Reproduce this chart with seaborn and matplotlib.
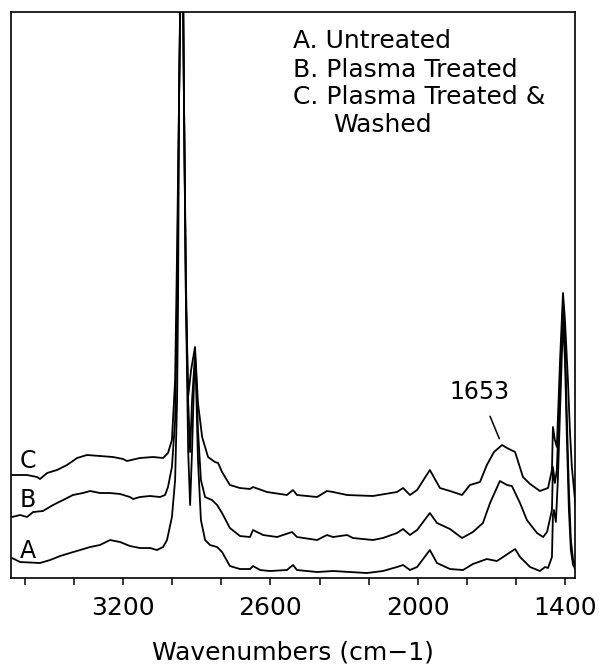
# IR spectra: untreated / plasma treated / plasma treated & washed

import numpy as np
import pandas as pd
import seaborn as sns
import matplotlib.pyplot as plt
from matplotlib.ticker import FixedLocator

# ============================================
# DATA (wavenumber, absorbance offset per trace)
# ============================================

wn_a = [3652, 3619, 3538, 3497, 3456, 3416, 3375, 3334, 3294, 3253, 3212, 3172,
        3131, 3090, 3062, 3037, 3021, 3001, 2988, 2980, 2976, 2972, 2960, 2952,
        2944, 2935, 2927, 2919, 2911, 2907, 2903, 2895, 2883, 2866, 2846, 2817,
        2797, 2765, 2724, 2683, 2671, 2642, 2602, 2533, 2508, 2492, 2410, 2345,
        2207, 2142, 2085, 2060, 2032, 2003, 1951, 1922, 1869, 1816, 1776, 1719,
        1678, 1653, 1604, 1584, 1543, 1503, 1482, 1470, 1454, 1450, 1446, 1438,
        1430, 1417, 1409, 1401, 1393, 1385, 1377, 1368, 1352]
abs_a = [0.20, 0.16, 0.15, 0.18, 0.22, 0.25, 0.28, 0.31, 0.33, 0.38, 0.36, 0.32,
         0.30, 0.30, 0.28, 0.31, 0.38, 0.61, 0.98, 1.78, 2.78, 4.78, 7.00, 4.78,
         2.78, 1.28, 0.73, 1.28, 1.98, 2.13, 1.98, 1.18, 0.58, 0.38, 0.33, 0.31,
         0.26, 0.12, 0.09, 0.09, 0.12, 0.08, 0.07, 0.08, 0.13, 0.08, 0.06, 0.07,
         0.05, 0.07, 0.11, 0.13, 0.08, 0.11, 0.28, 0.15, 0.09, 0.08, 0.14, 0.19,
         0.17, 0.21, 0.29, 0.21, 0.11, 0.07, 0.11, 0.10, 0.21, 0.63, 0.68, 0.56,
         0.98, 1.98, 2.58, 2.18, 1.38, 0.68, 0.28, 0.13, 0.06]

wn_b = [3652, 3619, 3591, 3566, 3526, 3485, 3444, 3404, 3363, 3334, 3294, 3253,
        3212, 3172, 3159, 3131, 3090, 3049, 3029, 3017, 3001, 2988, 2980, 2972,
        2960, 2952, 2944, 2935, 2927, 2919, 2907, 2903, 2895, 2883, 2866, 2838,
        2817, 2797, 2765, 2724, 2683, 2671, 2630, 2573, 2512, 2492, 2410, 2370,
        2345, 2288, 2264, 2183, 2142, 2085, 2060, 2032, 2003, 1951, 1922, 1869,
        1820, 1776, 1735, 1706, 1666, 1637, 1617, 1584, 1556, 1515, 1490, 1474,
        1454, 1450, 1442, 1434, 1421, 1409, 1401, 1393, 1385, 1377, 1368, 1352]
abs_b = [0.61, 0.63, 0.61, 0.66, 0.67, 0.73, 0.78, 0.83, 0.85, 0.87, 0.85, 0.85,
         0.84, 0.81, 0.79, 0.81, 0.82, 0.81, 0.83, 0.91, 1.11, 1.58, 2.78, 4.78,
         7.20, 4.78, 2.98, 1.78, 1.26, 1.78, 2.23, 2.08, 1.48, 0.98, 0.81, 0.78,
         0.73, 0.65, 0.50, 0.42, 0.41, 0.48, 0.43, 0.41, 0.46, 0.41, 0.38, 0.43,
         0.41, 0.43, 0.40, 0.38, 0.40, 0.45, 0.49, 0.43, 0.48, 0.65, 0.55, 0.49,
         0.40, 0.46, 0.55, 0.75, 0.97, 0.93, 0.92, 0.75, 0.58, 0.45, 0.41, 0.46,
         0.68, 1.11, 0.95, 1.08, 1.98, 2.73, 2.38, 1.58, 0.88, 0.38, 0.18, 0.08]

wn_c = [3652, 3591, 3550, 3538, 3509, 3469, 3428, 3387, 3347, 3294, 3241, 3200,
        3184, 3131, 3078, 3037, 3017, 3001, 2988, 2980, 2972, 2960, 2952, 2944,
        2935, 2923, 2907, 2895, 2878, 2854, 2826, 2813, 2797, 2765, 2724, 2683,
        2671, 2614, 2533, 2508, 2492, 2410, 2370, 2345, 2288, 2183, 2085, 2060,
        2032, 2003, 1951, 1910, 1869, 1820, 1788, 1747, 1719, 1690, 1657, 1637,
        1604, 1572, 1543, 1503, 1470, 1454, 1450, 1442, 1434, 1421, 1409, 1401,
        1389, 1381, 1373, 1360, 1352]
abs_c = [1.03, 1.03, 1.01, 0.99, 1.05, 1.08, 1.13, 1.20, 1.23, 1.22, 1.21, 1.19,
         1.17, 1.20, 1.21, 1.20, 1.25, 1.38, 1.98, 3.28, 4.78, 7.40, 4.78, 2.78,
         1.81, 2.08, 2.31, 1.75, 1.41, 1.21, 1.16, 1.15, 1.06, 0.93, 0.90, 0.89,
         0.91, 0.86, 0.83, 0.88, 0.83, 0.81, 0.87, 0.86, 0.83, 0.82, 0.86, 0.90,
         0.83, 0.88, 1.08, 0.90, 0.87, 0.83, 0.93, 0.96, 1.13, 1.26, 1.33, 1.30,
         1.26, 1.01, 0.94, 0.87, 0.90, 1.08, 1.51, 1.38, 1.31, 2.18, 2.85, 2.58,
         1.98, 1.48, 1.11, 0.78, 0.58]

trace_labels = ["A", "B", "C"]
legend_lines = ["A. Untreated", "B. Plasma Treated", "C. Plasma Treated &"]
major_ticks = [3200, 2600, 2000, 1400]
minor_ticks = [3600, 3400, 3000, 2800, 2400, 2200, 1800, 1600]

df = pd.concat([
    pd.DataFrame({"wn": wn_a, "A": abs_a, "trace": "A"}),
    pd.DataFrame({"wn": wn_b, "A": abs_b, "trace": "B"}),
    pd.DataFrame({"wn": wn_c, "A": abs_c, "trace": "C"}),
])

# ============================================
# PLOT
# ============================================

sns.set_style("white")
plt.rcParams["font.family"] = ["DejaVu Sans"]
plt.rcParams["text.color"] = "black"
plt.rcParams["xtick.color"] = "black"
plt.rcParams["axes.labelcolor"] = "black"

fig = plt.figure(figsize=(5.99, 6.66), dpi=100)
ax = fig.add_axes([0.0184, 0.1321, 0.9416, 0.850])

sns.lineplot(
    data=df, x="wn", y="A", units="trace", estimator=None,
    sort=False, color="black", linewidth=1.3, ax=ax
)

ax.set_xlim(3656, 1360)
ax.set_ylim(0, 5.66)
ax.set_yticks([])
ax.set_ylabel("")

ax.xaxis.set_major_locator(FixedLocator(major_ticks))
ax.xaxis.set_minor_locator(FixedLocator(minor_ticks))
ax.tick_params(axis="x", which="both", direction="out", length=5,
               width=1.1, bottom=True, color="black", labelcolor="black")
ax.tick_params(axis="x", which="major", labelsize=18, pad=8)

for s in ax.spines.values():
    s.set_linewidth(1.2)
    s.set_color("black")

ax.set_xlabel("Wavenumbers (cm\u22121)", fontsize=18, labelpad=15,
              color="black")

# trace letters
for lab, yf in zip(trace_labels, [0.048, 0.138, 0.207]):
    ax.text(0.030, yf, lab, transform=ax.transAxes, fontsize=17,
            ha="center", va="center", color="black")

# legend block
for line, yf in zip(legend_lines, [0.949, 0.898, 0.850]):
    ax.text(0.50, yf, line, transform=ax.transAxes, fontsize=18,
            ha="left", va="center", color="black")
ax.text(0.571, 0.800, "Washed", transform=ax.transAxes, fontsize=18,
        ha="left", va="center", color="black")

ax.annotate(
    "1653", xy=(1666, 1.38), xytext=(1747, 1.86),
    fontsize=17, ha="center", va="center", color="black",
    arrowprops=dict(arrowstyle="-", color="black", lw=1.1,
                    shrinkA=7, shrinkB=1)
)

plt.savefig("out.png", dpi=100)
